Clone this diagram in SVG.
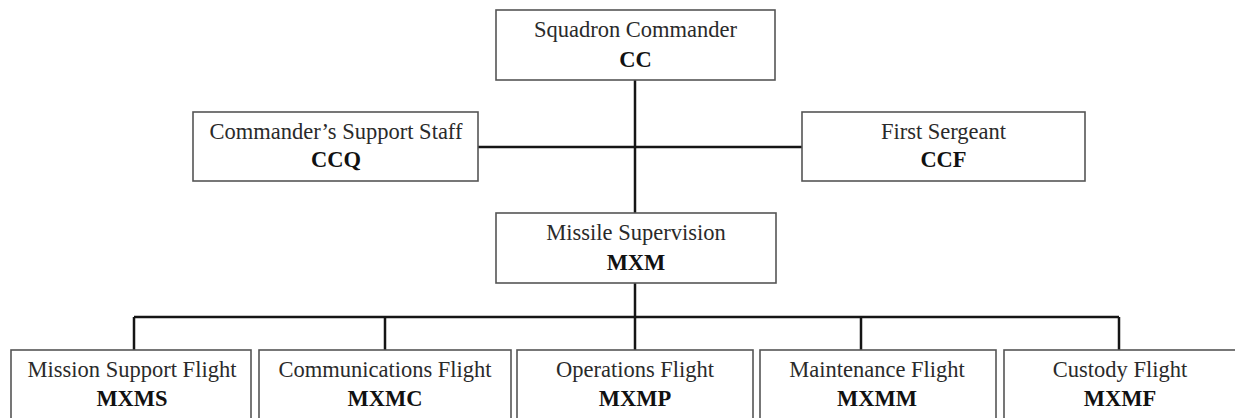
<svg xmlns="http://www.w3.org/2000/svg" width="1235" height="418" viewBox="0 0 1235 418">
<style>
  .box { fill: #fff; stroke: #555; stroke-width: 1.6; }
  .t { font-family: "Liberation Serif", "Times New Roman", serif; font-size: 22.5px; fill: #2a2a2a; text-anchor: middle; }
  .b { font-family: "Liberation Serif", "Times New Roman", serif; font-size: 22.5px; font-weight: bold; fill: #111; text-anchor: middle; }
  .conn { stroke: #151515; stroke-width: 2.5; fill: none; }
</style>
<rect width="1235" height="418" fill="#fff"/>
<g id="connectors">
  <path class="conn" d="M635,80 V213"/>
  <path class="conn" d="M478,147 H802"/>
  <path class="conn" d="M635,283 V317"/>
  <path class="conn" d="M134,317 H1119"/>
  <path class="conn" d="M134,317 V350 M385,317 V350 M635,317 V350 M861,317 V350 M1119,317 V350"/>
</g>
<g id="cc">
  <rect class="box" x="496" y="10" width="279" height="70"/>
  <text class="t" x="635.5" y="37">Squadron Commander</text>
  <text class="b" x="635.5" y="67">CC</text>
</g>
<g id="ccq">
  <rect class="box" x="193" y="112" width="285" height="69"/>
  <text class="t" x="336" y="139">Commander’s Support Staff</text>
  <text class="b" x="336" y="167">CCQ</text>
</g>
<g id="ccf">
  <rect class="box" x="802" y="112" width="283" height="69"/>
  <text class="t" x="943.5" y="139">First Sergeant</text>
  <text class="b" x="943.5" y="167">CCF</text>
</g>
<g id="mxm">
  <rect class="box" x="496" y="213" width="280" height="70"/>
  <text class="t" x="636" y="240">Missile Supervision</text>
  <text class="b" x="636" y="270">MXM</text>
</g>
<g id="mxms">
  <rect class="box" x="11" y="350" width="240" height="80"/>
  <text class="t" x="132" y="377">Mission Support Flight</text>
  <text class="b" x="132" y="406">MXMS</text>
</g>
<g id="mxmc">
  <rect class="box" x="259" y="350" width="252" height="80"/>
  <text class="t" x="385" y="377">Communications Flight</text>
  <text class="b" x="385" y="406">MXMC</text>
</g>
<g id="mxmp">
  <rect class="box" x="517" y="350" width="236" height="80"/>
  <text class="t" x="635" y="377">Operations Flight</text>
  <text class="b" x="635" y="406">MXMP</text>
</g>
<g id="mxmm">
  <rect class="box" x="760" y="350" width="236" height="80"/>
  <text class="t" x="877" y="377">Maintenance Flight</text>
  <text class="b" x="877" y="406">MXMM</text>
</g>
<g id="mxmf">
  <rect class="box" x="1004" y="350" width="240" height="80"/>
  <text class="t" x="1120" y="377">Custody Flight</text>
  <text class="b" x="1120" y="406">MXMF</text>
</g>
</svg>
